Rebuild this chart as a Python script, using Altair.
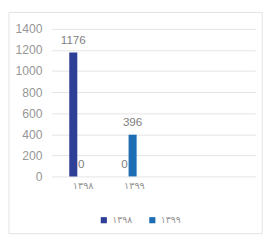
import altair as alt
import pandas as pd

categories = ["۱۳۹۸", "۱۳۹۹"]
series = ["۱۳۹۸", "۱۳۹۹"]
values_1398 = [1176, 0]
values_1399 = [0, 396]
y_ticks = [0, 200, 400, 600, 800, 1000, 1200, 1400]
colors = ["#2E3F98", "#1F6DB3"]

rows = []
for i, c in enumerate(categories):
    rows.append({"cat": c, "series": series[0], "value": values_1398[i]})
    rows.append({"cat": c, "series": series[1], "value": values_1399[i]})
df = pd.DataFrame(rows)

x_domain = categories + [" ", "  "]

x_enc = alt.X(
    "cat:N",
    scale=alt.Scale(domain=x_domain, paddingInner=0.686, paddingOuter=0.33, align=0.52),
    sort=x_domain,
    axis=alt.Axis(
        title=None, ticks=False, domain=False, labelAngle=0, labelFontSize=10,
        labelColor="#929292", labelPadding=4, labelOffset=6, labelFont="DejaVu Sans",
    ),
)
xoff = alt.XOffset("series:N", scale=alt.Scale(domain=series, paddingInner=0, paddingOuter=0))
y_enc = alt.Y(
    "value:Q",
    scale=alt.Scale(domain=[0, 1400], nice=False),
    axis=alt.Axis(
        title=None, values=y_ticks, ticks=False, domain=False, labelFontSize=12.5,
        labelColor="#979797", labelPadding=10, gridColor="#e4e4e4", labelFont="Liberation Sans",
        format="d", labelOverlap=False, tickCount=8,
    ),
)

base = alt.Chart(df)

bars = base.mark_bar().encode(
    x=x_enc,
    xOffset=xoff,
    y=y_enc,
    color=alt.Color(
        "series:N",
        scale=alt.Scale(domain=series, range=colors),
        legend=alt.Legend(
            title=None, orient="none", direction="horizontal", legendX=49, legendY=192,
            symbolType="square", symbolSize=40, symbolStrokeWidth=0, labelFontSize=9.5,
            labelColor="#929292", columnPadding=16, labelFont="DejaVu Sans",
        ),
    ),
)

labels = base.mark_text(
    baseline="alphabetic", dy=-9, dx=0, fontSize=12, color="#808080", font="Liberation Sans"
).encode(
    x=alt.X("cat:N", scale=alt.Scale(domain=x_domain), sort=x_domain),
    xOffset=xoff,
    y=alt.Y("value:Q"),
    text=alt.Text("value:Q"),
)

frame = alt.Chart(alt.Data(values=[{}])).mark_rect(
    fill="transparent", stroke="#e2e2e2", strokeWidth=1
).encode(
    x=alt.value(-44), x2=alt.value(217), y=alt.value(-17), y2=alt.value(211)
)

chart = alt.layer(frame, bars, labels).properties(
    width=210,
    height=152,
    autosize=alt.AutoSizeParams(type="none"),
    padding={"left": 45, "top": 18, "right": 14, "bottom": 64},
).configure_view(stroke=None)

chart.save("out.html", embed_options={"renderer": "svg", "actions": False})
